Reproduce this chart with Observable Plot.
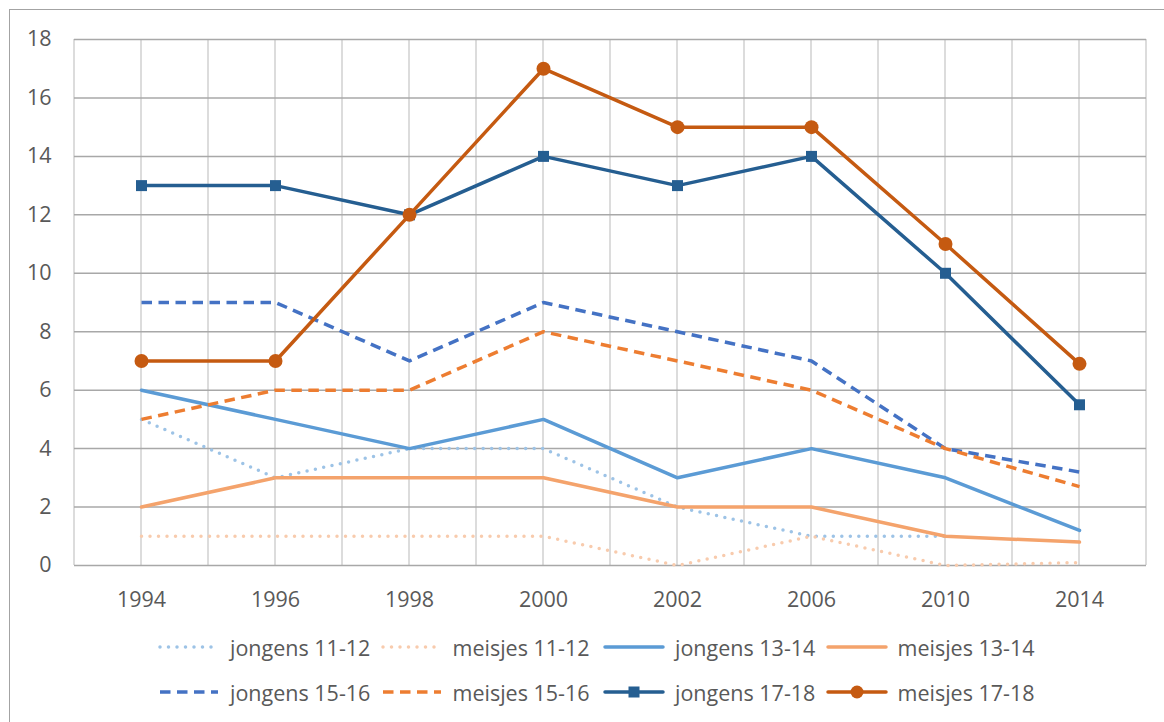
<!DOCTYPE html>
<html>
<head>
<meta charset="utf-8">
<script src="https://cdn.jsdelivr.net/npm/d3@7"></script>
<script src="https://cdn.jsdelivr.net/npm/@observablehq/plot@0.6"></script>
<style>
  html, body { margin: 0; padding: 0; background: #fff; }
  body { width: 1164px; height: 722px; position: relative; overflow: hidden; font-family: "Open Sans", sans-serif; }
  #frame { position: absolute; left: 9px; top: 9px; width: 1200px; height: 800px; border: 1.5px solid #a3a3a3; box-sizing: border-box; }
  #chart { position: absolute; left: 0; top: 0; }
  #legend { position: absolute; left: 0; top: 0; width: 1164px; }
  .item { position: absolute; display: flex; align-items: center; height: 30px; font-size: 21.5px; color: #595959; white-space: nowrap; }
  .item svg { margin-right: 10px; }
</style>
</head>
<body>
<div id="frame"></div>
<div id="chart"></div>
<div id="legend"></div>
<script>
const years = ["1994", "1996", "1998", "2000", "2002", "2006", "2010", "2014"];
const jongens1112 = [5, 3, 4, 4, 2, 1, 1, null];
const meisjes1112 = [1, 1, 1, 1, 0, 1, 0, 0.1];
const jongens1314 = [6, 5, 4, 5, 3, 4, 3, 1.2];
const meisjes1314 = [2, 3, 3, 3, 2, 2, 1, 0.8];
const jongens1516 = [9, 9, 7, 9, 8, 7, 4, 3.2];
const meisjes1516 = [5, 6, 6, 8, 7, 6, 4, 2.7];
const jongens1718 = [13, 13, 12, 14, 13, 14, 10, 5.5];
const meisjes1718 = [7, 7, 12, 17, 15, 15, 11, 6.9];
const yTicks = [0, 2, 4, 6, 8, 10, 12, 14, 16, 18];

const seriesNames = ["jongens 11-12", "meisjes 11-12", "jongens 13-14", "meisjes 13-14",
                     "jongens 15-16", "meisjes 15-16", "jongens 17-18", "meisjes 17-18"];
const seriesValues = [jongens1112, meisjes1112, jongens1314, meisjes1314,
                      jongens1516, meisjes1516, jongens1718, meisjes1718];

const styles = {
  "jongens 11-12": {stroke: "#9dc3e6", dash: "0,8.5", cap: "round"},
  "meisjes 11-12": {stroke: "#f8cbad", dash: "0,8.5", cap: "round"},
  "jongens 13-14": {stroke: "#5b9bd5", dash: null, cap: "round"},
  "meisjes 13-14": {stroke: "#f4a36c", dash: null, cap: "round"},
  "jongens 15-16": {stroke: "#4472c4", dash: "10.5,6.5", cap: "butt"},
  "meisjes 15-16": {stroke: "#ed7d31", dash: "10.5,6.5", cap: "butt"},
  "jongens 17-18": {stroke: "#255e91", dash: null, cap: "round", symbol: "square", r: 6.2},
  "meisjes 17-18": {stroke: "#c55a11", dash: null, cap: "round", symbol: "circle", r: 7}
};

const series = seriesNames.map((name, i) => ({
  name,
  data: years.map((year, j) => ({year, value: seriesValues[i][j]}))
}));

function verticalGrid(index, scales) {
  const {x, y} = scales;
  const step = x(years[1]) - x(years[0]);
  const xs = [];
  years.forEach(v => { xs.push(x(v) - step / 2); xs.push(x(v)); });
  xs.push(x(years[years.length - 1]) + step / 2);
  const g = d3.create("svg:g");
  g.selectAll("line").data(xs).join("line")
    .attr("x1", d => d).attr("x2", d => d)
    .attr("y1", y(yTicks[yTicks.length - 1])).attr("y2", y(yTicks[0]))
    .attr("stroke", "#d0d0d0").attr("stroke-width", 1.5);
  return g.node();
}

const marks = [
  verticalGrid,
  Plot.ruleY(yTicks, {stroke: "#a8a8a8", strokeWidth: 1.5}),
  Plot.axisY(yTicks, {tickSize: 0, tickPadding: 23, fontSize: 21.5, fill: "#595959"}),
  Plot.axisX({tickSize: 0, tickPadding: 26, fontSize: 21.5, fill: "#595959"})
];

for (const s of series) {
  const st = styles[s.name];
  marks.push(Plot.line(s.data, {
    x: "year", y: "value", stroke: st.stroke, strokeWidth: 3.5,
    strokeDasharray: st.dash, strokeLinecap: st.cap, strokeLinejoin: "round",
    strokeOpacity: 1
  }));
  if (st.symbol) {
    marks.push(Plot.dot(s.data, {
      x: "year", y: "value", symbol: st.symbol, r: st.r, fill: st.stroke, stroke: null
    }));
  }
}

const chart = Plot.plot({
  width: 1164,
  height: 615,
  marginLeft: 74,
  marginRight: 18,
  marginTop: 39,
  marginBottom: 50,
  x: {type: "point", domain: years, padding: 0.5, label: null},
  y: {domain: [0, 18], label: null},
  style: {fontFamily: "'Open Sans', sans-serif", fontSize: "21.5px", color: "#595959", background: "transparent", overflow: "visible"},
  marks
});
document.getElementById("chart").appendChild(chart);

// Legend
const legend = document.getElementById("legend");
const rowTops = [632, 677];
seriesNames.forEach((name, i) => {
  const st = styles[name];
  const row = Math.floor(i / 4), col = i % 4;
  const item = document.createElement("div");
  item.className = "item";
  item.style.left = (158 + col * 222.5) + "px";
  item.style.top = rowTops[row] + "px";
  const svg = d3.create("svg").attr("width", 62).attr("height", 20);
  svg.append("line").attr("x1", 2).attr("x2", 60).attr("y1", 10).attr("y2", 10)
    .attr("stroke", st.stroke).attr("stroke-width", 3.5)
    .attr("stroke-dasharray", st.dash).attr("stroke-linecap", st.cap);
  if (st.symbol === "square") {
    svg.append("rect").attr("x", 31 - 5.5).attr("y", 10 - 5.5).attr("width", 11).attr("height", 11).attr("fill", st.stroke);
  } else if (st.symbol === "circle") {
    svg.append("circle").attr("cx", 31).attr("cy", 10).attr("r", 6.5).attr("fill", st.stroke);
  }
  item.appendChild(svg.node());
  const span = document.createElement("span");
  span.textContent = name;
  item.appendChild(span);
  legend.appendChild(item);
});
</script>
</body>
</html>
